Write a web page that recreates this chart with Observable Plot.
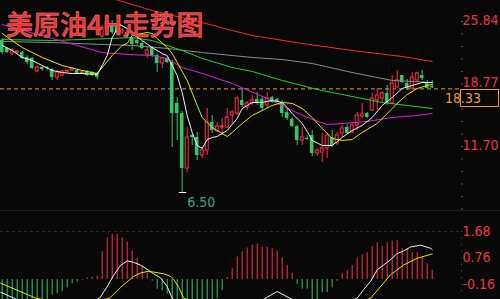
<!DOCTYPE html>
<html><head><meta charset="utf-8">
<script src="https://cdn.jsdelivr.net/npm/d3@7"></script>
<script src="https://cdn.jsdelivr.net/npm/@observablehq/plot@0.6"></script>
<style>
html,body{margin:0;padding:0;background:#080808;}
#wrap{position:relative;width:500px;height:299px;overflow:hidden;background:#080808;}
#main{position:absolute;left:0;top:0;}
#macd{position:absolute;left:0;top:210px;border-top:1px solid #1e1e1e;}
#title{position:absolute;left:6px;top:10px;font-size:27px;line-height:28px;font-weight:500;font-family:"Noto Sans CJK SC",sans-serif;color:#ec3232;-webkit-text-stroke:0.5px #ff8080;white-space:nowrap;}
</style></head><body>
<div id="wrap"><div id="main"></div><div id="macd"></div><div id="title">美原油4H走势图</div></div>
<script>
// ---- candle data (4H) ----
const open = [23.69,22.79,22.22,22.33,22.33,21.77,21.66,20.19,20.64,20.64,
 20.41,19.51,19.73,20.17,20.30,20.30,19.96,20.19,20.07,19.96,
 24.14,25.05,25.50,25.27,24.60,24.60,23.92,23.69,23.35,22.11,
 22.90,21.99,21.09,21.66,21.20,16.57,15.43,9.21,12.95,12.72,
 10.68,11.25,14.42,13.40,13.85,13.85,15.21,15.43,16.91,16.11,
 16.57,17.02,17.02,16.34,17.24,17.02,16.68,15.55,14.76,13.96,
 12.38,12.61,12.95,10.91,11.02,11.48,12.72,12.04,13.17,13.85,
 13.29,14.08,15.10,15.43,15.77,16.91,17.13,17.70,16.57,18.38,
 19.73,18.83,18.26,19.17,19.73,18.83,18.49];
const high = [23.92,22.90,22.79,22.56,22.45,21.99,21.77,20.86,20.75,20.75,
 20.52,20.30,20.30,20.30,20.64,20.41,20.19,20.30,20.19,20.07,
 25.39,26.18,25.95,25.50,25.05,24.82,24.03,23.92,23.58,22.90,
 23.01,22.22,21.77,21.77,21.43,17.24,15.66,13.85,13.17,13.29,
 11.59,16.00,15.21,14.42,14.87,16.00,15.77,17.36,18.26,16.79,
 17.47,17.81,17.24,17.81,17.36,17.13,16.91,16.00,14.98,14.08,
 13.85,12.95,13.51,11.48,13.17,13.17,13.51,13.29,14.08,14.19,
 14.42,15.55,16.57,15.55,17.70,18.26,17.92,18.60,19.73,20.30,
 19.73,19.28,20.07,20.07,20.30,19.17,19.17];
const low = [22.11,22.22,21.99,22.11,21.54,20.98,20.41,20.07,20.19,20.30,
 19.17,19.17,19.62,20.07,20.19,19.85,19.85,19.62,19.62,19.28,
 23.92,24.82,24.37,24.26,24.37,23.92,22.56,23.13,22.67,21.66,
 21.77,20.07,20.52,21.09,11.59,12.38,6.50,8.76,11.82,10.12,
 10.35,10.68,13.17,13.29,12.95,13.74,14.30,15.21,16.11,15.77,
 16.34,16.34,15.77,16.00,16.57,16.68,14.98,14.64,13.85,11.82,
 11.82,12.38,10.57,10.57,9.89,10.35,11.59,11.82,12.72,13.06,
 13.17,13.51,14.87,14.87,15.66,15.77,16.68,16.34,16.45,18.26,
 18.83,18.04,18.04,18.94,19.17,18.26,18.26];
const close = [22.33,22.33,22.56,22.36,21.66,21.20,20.52,20.64,20.41,20.52,
 19.51,20.07,20.19,20.19,20.52,19.96,20.07,19.73,19.73,19.51,
 25.05,25.73,24.60,24.48,24.82,24.14,23.24,23.35,22.79,22.56,
 21.99,21.09,21.66,21.20,15.43,15.43,9.21,12.72,12.72,10.68,
 11.25,14.42,13.51,13.96,13.96,14.98,15.55,17.13,16.34,16.57,
 16.91,16.68,16.00,17.13,16.68,16.79,15.43,14.87,13.96,12.38,
 12.72,12.49,10.91,11.25,11.48,12.95,11.82,12.95,13.74,13.17,
 14.08,15.21,15.32,14.98,17.13,17.47,17.70,16.57,18.83,19.17,
 18.94,18.26,19.51,19.96,19.39,18.26,18.33];

// ---- moving averages: [bar index, price] ----
const maWhite = [[0,23.13],[2,22.56],[4,21.77],[6,21.43],[8,20.86],[10,20.30],[12,20.07],[14,19.96],[16,19.96],[19,19.85],
 [20,20.86],[21,21.99],[22,24.03],[23.5,25.50],[25,25.05],[26,24.48],[28,23.69],[30,22.90],[32,22.22],[33,21.99],
 [35,19.73],[36,17.81],[37,15.21],[38,13.29],[39,11.82],[40,11.48],[41,12.49],[42,12.72],[43,12.83],[45,13.51],
 [47,14.87],[48,16.00],[50,16.68],[52,16.68],[54,16.91],[56,16.68],[57,16.11],[58,15.43],[60,14.30],[61,13.40],
 [62,12.38],[64,11.82],[66,11.82],[68,12.72],[70,13.51],[72,14.08],[74,14.98],[76,16.34],[78,17.24],[80,18.26],
 [82,18.60],[84,18.94],[86,18.94]];
const maYellow = [[0,24.48],[4,22.90],[8,21.77],[12,20.86],[16,20.30],[19,19.96],[22,21.99],[24,23.13],[25,23.35],[26,24.26],
 [29,24.60],[30,24.48],[31,23.92],[33,22.90],[34,22.22],[35,21.20],[37,19.17],[39,16.34],[40,14.98],[41,14.42],
 [42,13.85],[45,12.83],[46,13.29],[48,14.30],[50,15.21],[52,15.77],[54,16.34],[56,16.68],[58,16.57],[60,16.00],
 [62,14.98],[64,13.74],[66,12.61],[68,12.38],[70,12.49],[72,13.29],[75,14.30],[77,15.43],[79,16.57],[81,17.58],
 [83,18.26],[85,18.60],[86,18.71]];
const maMagenta = [[0,25.50],[5,24.71],[10,23.92],[15,23.13],[20,22.33],[25,22.11],[30,21.99],[33,21.66],[36,20.64],[40,19.96],
 [46,18.83],[53,17.13],[58,15.77],[62,14.76],[65,14.19],[68,14.30],[73,14.53],[78,14.98],[83,15.21],[86,15.43]];
const maGreen = [[0,23.80],[10,23.69],[22,23.92],[26,24.03],[30,23.69],[33,23.13],[36,22.56],[40,21.66],[46,20.64],[50,20.19],
 [56,19.17],[63,18.15],[68,17.58],[76,16.68],[86,16.00]];
const maGray = [[0,23.58],[10,23.46],[20,23.24],[26,23.13],[33,22.79],[40,22.33],[50,21.77],[56,21.54],[62,21.09],[70,20.07],
 [78,19.17],[86,18.94]];
const maRed = [[18,29.10],[23.3,28.22],[30,27.08],[40,25.73],[46,24.82],[50,24.26],[60,23.35],[70,22.56],[80,21.88],[86,21.32]];

// ---- price axis ----
const priceLabels = [25.84, 18.77, 11.70];
const priceMinorTicks = [25.84,24.43,23.01,21.60,20.18,18.77,17.36,15.94,14.53,13.11,11.70,10.29,8.87,7.46,6.04,4.63];

// ---- MACD ----
const hist = [-1.2,-1.25,-1.2,-1.15,-1.1,-1.0,-0.95,-0.9,-0.8,-0.7,
 -0.55,-0.49,-0.43,-0.29,-0.15,-0.09,-0.02,0.05,0.08,0.11,
 0.97,1.46,1.58,1.58,1.46,1.31,0.99,0.73,0.46,0.23,
 -0.06,-0.34,-0.40,-0.51,-0.70,-0.85,-0.95,-1.0,-1.0,-0.95,
 -0.9,-0.85,-0.75,-0.68,-0.38,0.08,0.39,0.79,0.97,1.10,
 1.20,1.23,1.13,1.13,1.08,1.00,0.76,0.49,0.21,-0.17,
 -0.34,-0.34,-0.70,-0.70,-0.46,-0.46,-0.29,-0.06,0.21,0.32,
 0.49,0.73,0.86,0.94,1.16,1.29,1.16,1.29,1.34,1.37,
 1.08,1.08,0.94,0.94,0.78,0.55,0.32];
const dif = [[-0.3,-0.45],[2.3,-0.65],[6,-0.95],[11,-1.05],[16,-0.95],[19.5,-0.65],[21,-0.25],[22.3,0.15],[23.7,0.50],[25,0.65],
 [26.3,0.60],[27.7,0.50],[29,0.36],[30.3,0.20],[31.7,0.05],[33,-0.25],[34,-0.65],[38,-1.2],[44,-1.3],[50,-0.95],
 [52.4,-0.68],[55,-0.42],[57.8,-0.68],[60,-0.9],[66,-1.0],[71,-0.65],[72.3,-0.35],[73.7,-0.06],[75,0.34],[76.3,0.51],
 [77.7,0.70],[79,0.91],[80.3,1.00],[81.7,1.14],[83.7,1.20],[85.7,1.09],[86,1.05]];
const dea = [[-0.3,-0.13],[6.7,-0.65],[12,-0.85],[18,-0.8],[21.5,-0.65],[23.7,-0.27],[26.3,0.11],[27.7,0.23],[29,0.28],[30.3,0.26],
 [32.3,0.20],[33.7,0.11],[34.3,0.0],[35.3,-0.27],[36.3,-0.65],[45,-1.3],[60,-1.2],[70,-0.9],[73.7,-0.65],[77.7,0.17],
 [80.3,0.51],[83,0.74],[85.7,0.88],[86,0.89]];
const macdLabels = [1.68, 0.76, -0.16];
const macdMinorTicks = [1.68,1.45,1.22,0.99,0.76,0.53,0.30,0.07,-0.16,-0.39];

// ---- styling ----
const RED = "#ff3048", GREEN = "#33c46c", BG = "#080808", AXRED = "#f0343f", ORANGE = "#eb9a34";
const FONT = '"Liberation Sans Narrow","Arial Narrow","DejaVu Sans Condensed",sans-serif';
const LABEL_SIZE = 14;

const rows = open.map((o, i) => ({i, open: o, high: high[i], low: low[i], close: close[i]}));
const upRows = rows.filter(d => d.close >= d.open);
const dnRows = rows.filter(d => d.close < d.open);
const lowRow = rows.reduce((a, b) => (b.low < a.low ? b : a));
const lastClose = close[close.length - 1];
const bodyEnd = d => Math.abs(d.close - d.open) < 0.1 ? d.open + (d.close >= d.open ? 0.1 : -0.1) : d.close;
const maLine = (pts, color) => Plot.line(pts, {x: d => d[0], y: d => d[1], stroke: color, strokeWidth: 1, clip: true});
const xScale = {domain: [0, 86], range: [1.7, 431.7], axis: null};

const mainPlot = Plot.plot({
  width: 500, height: 210, marginTop: 0, marginRight: 40, marginBottom: 0, marginLeft: 0,
  style: {background: BG, overflow: "hidden"},
  x: xScale,
  y: {domain: [11.70, 25.84], range: [146, 21]},
  marks: [
    Plot.axisY({anchor: "right", ticks: priceMinorTicks, tickSize: 2, stroke: "#5a5a5a", tickFormat: () => "", label: null}),
    Plot.ruleY([lastClose], {stroke: ORANGE, strokeDasharray: "4,3", dy: 1}),
    Plot.ruleX(dnRows, {x: "i", y1: "low", y2: "high", stroke: GREEN, clip: true}),
    Plot.ruleX(upRows, {x: "i", y1: "low", y2: "high", stroke: RED, clip: true}),
    Plot.rect(dnRows, {x1: d => d.i - 0.36, x2: d => d.i + 0.36, y1: "open", y2: bodyEnd, fill: GREEN, clip: true}),
    Plot.rect(upRows, {x1: d => d.i - 0.3, x2: d => d.i + 0.3, y1: "open", y2: bodyEnd, fill: BG, stroke: RED, strokeWidth: 1, clip: true}),
    maLine(maRed, "#ff2a2a"),
    maLine(maGray, "#8a8a8a"),
    maLine(maGreen, "#22d422"),
    maLine(maMagenta, "#e01ee0"),
    maLine(maYellow, "#e8e800"),
    maLine(maWhite, "#f2f2f2"),
    Plot.ruleY([lowRow], {y: "low", x1: d => d.i - 0.6, x2: d => d.i + 0.9, stroke: "#ffffff"}),
    Plot.text([lowRow], {x: "i", y: "low", text: d => d.low.toFixed(2), dx: 5, dy: 10, textAnchor: "start", fill: "#3aa87c", fontSize: 14, fontWeight: 500, fontFamily: FONT}),
    Plot.text(priceLabels, {y: d => d, text: d => d.toFixed(2), frameAnchor: "right", textAnchor: "start", dx: 2, dy: -1, fill: AXRED, fontSize: LABEL_SIZE, fontFamily: FONT})
  ]
});
document.getElementById("main").appendChild(mainPlot);

// last-price box on the right axis
{
  const yL = Math.round(mainPlot.scale("y").apply(lastClose));
  const svg = d3.select(mainPlot);
  const g = svg.append("g");
  g.append("rect").attr("x", 460.5).attr("y", yL + 2.5).attr("width", 38).attr("height", 17)
    .attr("fill", BG).attr("stroke", ORANGE).attr("stroke-width", 1);
  g.append("text").attr("x", 463).attr("y", yL + 11.5).attr("dy", "0.35em")
    .attr("fill", ORANGE).attr("font-size", LABEL_SIZE).attr("font-family", FONT).text(lastClose.toFixed(2));
}

const macdRows = hist.map((v, i) => ({i, v}));
const macdPlot = Plot.plot({
  width: 500, height: 88, marginTop: 0, marginRight: 40, marginBottom: 0, marginLeft: 0,
  style: {background: BG, overflow: "hidden"},
  x: xScale,
  y: {domain: [0, 1.68], range: [68, 20]},
  marks: [
    Plot.axisY({anchor: "right", ticks: macdMinorTicks, tickSize: 1, stroke: "#5a5a5a", tickFormat: () => "", label: null}),
    Plot.ruleY([macdLabels[0]], {stroke: "#2e2e2e", strokeDasharray: "3,3"}),
    Plot.ruleX(macdRows.filter(d => d.v >= 0), {x: "i", y1: 0, y2: "v", stroke: RED, clip: true}),
    Plot.ruleX(macdRows.filter(d => d.v < 0), {x: "i", y1: 0, y2: "v", stroke: GREEN, clip: true}),
    Plot.line(dif, {x: d => d[0], y: d => d[1], stroke: "#f2f2f2", strokeWidth: 1, clip: true}),
    Plot.line(dea, {x: d => d[0], y: d => d[1], stroke: "#e8e800", strokeWidth: 1, clip: true}),
    Plot.text(macdLabels, {y: d => d, text: d => d.toFixed(2), frameAnchor: "right", textAnchor: "start", dx: 2, fill: AXRED, fontSize: LABEL_SIZE, fontFamily: FONT})
  ]
});
document.getElementById("macd").appendChild(macdPlot);
</script>
</body></html>
